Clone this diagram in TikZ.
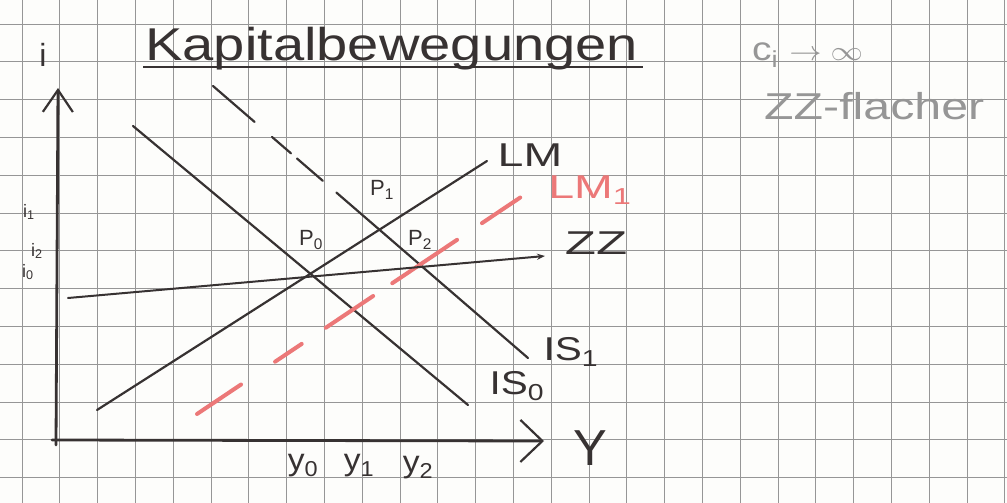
\documentclass[tikz,border=0pt]{standalone}
\usepackage{fontspec}
\setmainfont{Liberation Sans}
\usetikzlibrary{arrows.meta}
\definecolor{inkc}{RGB}{55,50,50}
\definecolor{redc}{RGB}{236,120,120}
\definecolor{pencil}{RGB}{150,150,150}
\definecolor{gridc}{RGB}{150,150,150}
\definecolor{paper}{RGB}{253,253,251}
\newcommand{\fs}[1]{\fontsize{#1}{#1}\selectfont}
\newcommand{\wide}[2]{\scalebox{#1}[1.1]{#2}}
\begin{document}
\begin{tikzpicture}[x=1pt,y=-1pt,
  curve/.style={draw=inkc, line width=2.2pt, line cap=round},
  axis/.style={draw=inkc, line width=2.8pt, line cap=round},
  lbl/.style={text=inkc, inner sep=0pt},
  redlbl/.style={text=redc, inner sep=0pt},
  pencillbl/.style={text=pencil, inner sep=0pt}]
\useasboundingbox (0,0) rectangle (1007,503);
\fill[paper] (0,0) rectangle (1007,503);
% grid paper
\foreach \k in {0,...,26} \draw[gridc, line width=0.9pt] ({22+37.8*\k},0) -- ({22+37.8*\k},503);
\foreach \k in {0,...,12} \draw[gridc, line width=0.9pt] (0,{24+37.8*\k}) -- (1007,{24+37.8*\k});

% title
\node[lbl, anchor=base west] (title) at (145,60) {\scalebox{1.22}[1]{\fs{46}Kapitalbewegungen}};
\coordinate (ulA) at (143,67);
\coordinate (ulB) at (643,67);
\draw[inkc, line width=2.6pt] (ulA) -- (ulB);

% side note
\node[pencillbl, anchor=west] (note1) at (752,55) {\wide{1.3}{\fs{30}c\textsubscript{i} $\rightarrow\infty$}};
\node[pencillbl, anchor=west] (note2) at (764,106) {\wide{1.42}{\fs{34}ZZ-flacher}};

% axes
\coordinate (O) at (56,445);
\coordinate (Ytop) at (58,88);
\coordinate (Xorig) at (52,440);
\coordinate (Xend) at (544,441);
\draw[axis, -{Straight Barb[length=22pt,width=30pt,line width=2.2pt]}] (O) -- (Ytop);
\draw[axis, -{Straight Barb[length=22pt,width=42pt,line width=2.2pt]}] (Xorig) -- (Xend);
\node[lbl] (ilab) at (43,55) {\fs{32}i};
\node[lbl] (Ylab) at (590,448) {\wide{1.1}{\fs{46}Y}};

% IS0
\coordinate (is0a) at (133,126);
\coordinate (is0b) at (468,405);
\draw[curve] (is0a) -- (is0b);
% IS1 (upper part dashed)
\coordinate (is1a) at (213,86);
\coordinate (is1b) at (528,358);
\draw[curve, dash pattern=on 55pt off 23pt on 25pt off 8pt on 34pt off 18pt on 400pt off 1pt] (is1a) -- (is1b);
% LM
\coordinate (lma) at (97,410);
\coordinate (lmb) at (487,161);
\draw[curve] (lma) -- (lmb);
% LM1 red dashed
\coordinate (lm1a) at (197,414);
\coordinate (lm1b) at (521,197);
\draw[draw=redc, line width=4pt, line cap=round, dash pattern=on 53pt off 41pt on 32pt off 29pt on 57pt off 23pt on 78pt off 30pt on 46pt off 2pt] (lm1a) -- (lm1b);
% ZZ
\coordinate (zza) at (68,298);
\coordinate (zzb) at (545,256);
\draw[curve, line width=2pt, -{Stealth[length=8pt,width=6pt]}] (zza) -- (zzb);

% curve labels
\node[lbl] (LMlab) at (530,155) {\wide{1.55}{\fs{30}LM}};
\node[redlbl] (LM1lab) at (590,190) {\wide{1.55}{\fs{30}LM\textsubscript{1}}};
\node[lbl] (ZZlab) at (596,243) {\wide{1.7}{\fs{30}ZZ}};
\node[lbl] (IS1lab) at (571,352) {\wide{1.35}{\fs{30}IS\textsubscript{1}}};
\node[lbl] (IS0lab) at (517,386) {\wide{1.35}{\fs{30}IS\textsubscript{0}}};

% points
\node[lbl] (P1) at (382,190) {\fs{22}P\textsubscript{1}};
\node[lbl] (P2) at (420,240) {\fs{22}P\textsubscript{2}};
\node[lbl] (P0) at (311,240) {\fs{22}P\textsubscript{0}};

% axis values
\node[lbl] (i1) at (29,212) {\fs{18}i\textsubscript{1}};
\node[lbl] (i2) at (37,251) {\fs{18}i\textsubscript{2}};
\node[lbl] (i0) at (28,272) {\fs{18}i\textsubscript{0}};
\node[lbl] (y0) at (303,466) {\wide{1.2}{\fs{28}y\textsubscript{0}}};
\node[lbl] (y1) at (359,466) {\wide{1.2}{\fs{28}y\textsubscript{1}}};
\node[lbl] (y2) at (418,468) {\wide{1.2}{\fs{28}y\textsubscript{2}}};
\end{tikzpicture}
\end{document}
